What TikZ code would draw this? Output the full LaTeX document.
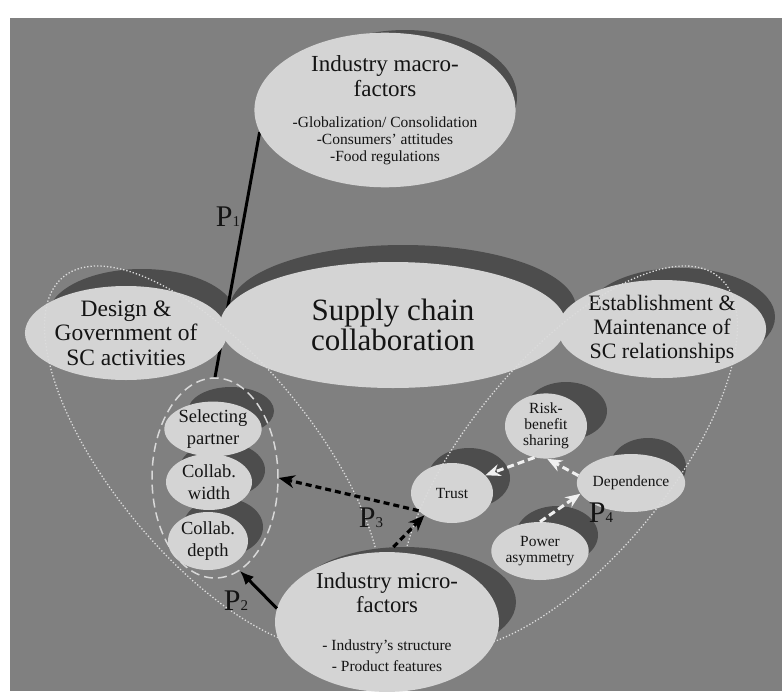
\documentclass[tikz,border=0pt]{standalone}
\usepackage{fontspec}
\setmainfont{Liberation Serif}
\usetikzlibrary{shapes.geometric,arrows.meta}
\definecolor{bgg}{HTML}{808080}
\definecolor{darkg}{HTML}{4D4D4D}
\definecolor{lightg}{HTML}{D4D4D4}
\definecolor{txt}{HTML}{141414}
\definecolor{wline}{HTML}{F0F0F0}
\definecolor{dotc}{HTML}{DCDCDC}
\definecolor{grpc}{HTML}{D8D8D8}
\pgfdeclarelayer{back}
\pgfdeclarelayer{shad}
\pgfdeclarelayer{under}
\pgfdeclarelayer{dots}
\pgfdeclarelayer{front}
\pgfsetlayers{back,shad,under,main,dots,front}
\newcommand{\bulsz}{\fontsize{15.5}{17}\selectfont}
\begin{document}
\begin{tikzpicture}[x=1pt,y=-1pt,
  lite/.style={ellipse,fill=lightg,inner sep=0pt,align=center,text=txt},
  shade/.style={ellipse,fill=darkg,inner sep=0pt},
  mid/.style={font=\fontsize{18.5}{22}\selectfont},
  small/.style={font=\fontsize{15.5}{16}\selectfont},
  plab/.style={inner sep=0pt,text=txt,font=\fontsize{30}{30}\selectfont},
  lobe/.style={draw=dotc,line width=1.3pt,dash pattern=on 1.3pt off 2pt},
  wdash/.style={draw=wline,line width=3pt,dash pattern=on 7pt off 4pt,-{Stealth[length=15pt,width=12pt]}},
  bdash/.style={draw=black,line width=3.2pt,dash pattern=on 6pt off 4pt,-{Stealth[length=16pt,width=13pt]}},
  bsolid/.style={draw=black,line width=3pt,-{Latex[length=14pt,width=12pt]}}
]
\useasboundingbox (0,0) rectangle (782,691);
\begin{pgfonlayer}{back}
\fill[bgg] (10,18) rectangle (782,691);
\end{pgfonlayer}

% shadows
\begin{pgfonlayer}{shad}
\node[shade,minimum width=224pt,minimum height=134pt] (macrosh) at (405,97) {};
\node[shade,minimum width=188pt,minimum height=94pt] (designsh) at (142,316) {};
\node[shade,minimum width=346pt,minimum height=126pt] (centralsh) at (403,308) {};
\node[shade,minimum width=190pt,minimum height=98pt] (estabsh) at (680,317) {};
\node[shade,minimum width=86pt,minimum height=48pt] (selsh) at (231,411) {};
\node[shade,minimum width=86pt,minimum height=56pt] (cwidsh) at (222,470) {};
\node[shade,minimum width=80pt,minimum height=58pt] (cdepsh) at (223,527) {};
\node[shade,minimum width=82pt,minimum height=60pt] (trustsh) at (469,478) {};
\node[shade,minimum width=82pt,minimum height=58pt] (risksh) at (566,411) {};
\node[shade,minimum width=82pt,minimum height=58pt] (powersh) at (557,535) {};
\node[shade,minimum width=76pt,minimum height=58pt] (depsh) at (648,467) {};
\end{pgfonlayer}

% light ellipses
\node[lite,minimum width=224pt,minimum height=134pt,font=\fontsize{23}{25}\selectfont] (macro) at (385,110)
  {Industry macro-\\factors\\[6pt]\bulsz -Globalization/ Consolidation\\[-8pt]\bulsz -Consumers' attitudes\\[-8pt]\bulsz -Food regulations};
\node[lite,minimum width=188pt,minimum height=94pt,font=\fontsize{23.5}{24.5}\selectfont] (design) at (126,333) {Design \&\\Government of\\SC activities};
\node[lite,minimum width=346pt,minimum height=126pt,font=\fontsize{31}{30}\selectfont] (central) at (393,325) {Supply chain\\collaboration};
\node[lite,minimum width=190pt,minimum height=98pt,font=\fontsize{22}{24}\selectfont] (estab) at (662,329) {Establishment \&\\Maintenance of\\SC relationships};
\node[lite,mid,minimum width=86pt,minimum height=48pt] (sel) at (213,429) {Selecting\\partner};
\node[lite,mid,minimum width=86pt,minimum height=56pt] (cwid) at (209,482) {Collab.\\width};
\node[lite,mid,minimum width=80pt,minimum height=58pt] (cdep) at (208,541) {Collab.\\depth};
\node[lite,small,minimum width=82pt,minimum height=60pt] (trust) at (452,493) {Trust};
\node[lite,small,minimum width=82pt,minimum height=58pt] (risk) at (546,426) {Risk-\\benefit\\sharing};
\node[lite,small,minimum width=82pt,minimum height=58pt] (power) at (540,551) {Power\\asymmetry};
\node[lite,small,minimum width=76pt,minimum height=58pt] (dep) at (631,483) {Dependence};

% dotted lobes
\begin{pgfonlayer}{dots}
\draw[lobe,rotate around={-50.4:(213,458)}] (213,458) ellipse [x radius=235, y radius=100];
\draw[lobe,rotate around={50.4:(569,458)}] (569,458) ellipse [x radius=235, y radius=100];
\end{pgfonlayer}

\begin{pgfonlayer}{front}
\node[shade,minimum width=224pt,minimum height=110pt] (microsh) at (404,602) {};
\node[lite,minimum width=224pt,minimum height=110pt,font=\fontsize{22.7}{24}\selectfont] (micro) at (387,622)
  {Industry micro-\\factors\\[14pt]\fontsize{15.5}{21}\selectfont - Industry's structure\\[-3pt]\fontsize{15.5}{21}\selectfont - Product features};
\node[ellipse,draw=grpc,line width=1.5pt,dash pattern=on 9pt off 5pt,minimum width=126pt,minimum height=200pt,inner sep=0pt] (grp) at (215,478) {};
% connectors
\draw[bsolid] (micro.173) -- (grp.-75);
\draw[bdash] (trust.208) -- (grp.east);
\draw[bdash] (microsh.101) -- (trust.219);
\draw[wdash] (risk.250) -- (trust.28);
\draw[wdash] (dep.172) -- (risk.-88);
\draw[wdash] (power.north) -- (dep.192);
% labels
\node[plab] (p1) at (228,217) {P\fontsize{15}{15}\selectfont 1};
\node[plab] (p2) at (236,601) {P\fontsize{15}{15}\selectfont 2};
\node[plab] (p3) at (371,518) {P\fontsize{15}{15}\selectfont 3};
\node[plab] (p4) at (601,513) {P\fontsize{15}{15}\selectfont 4};
\end{pgfonlayer}

\begin{pgfonlayer}{under}
\draw[black,line width=3pt] (macro.190) -- (grp.north);
\end{pgfonlayer}
\end{tikzpicture}
\end{document}
